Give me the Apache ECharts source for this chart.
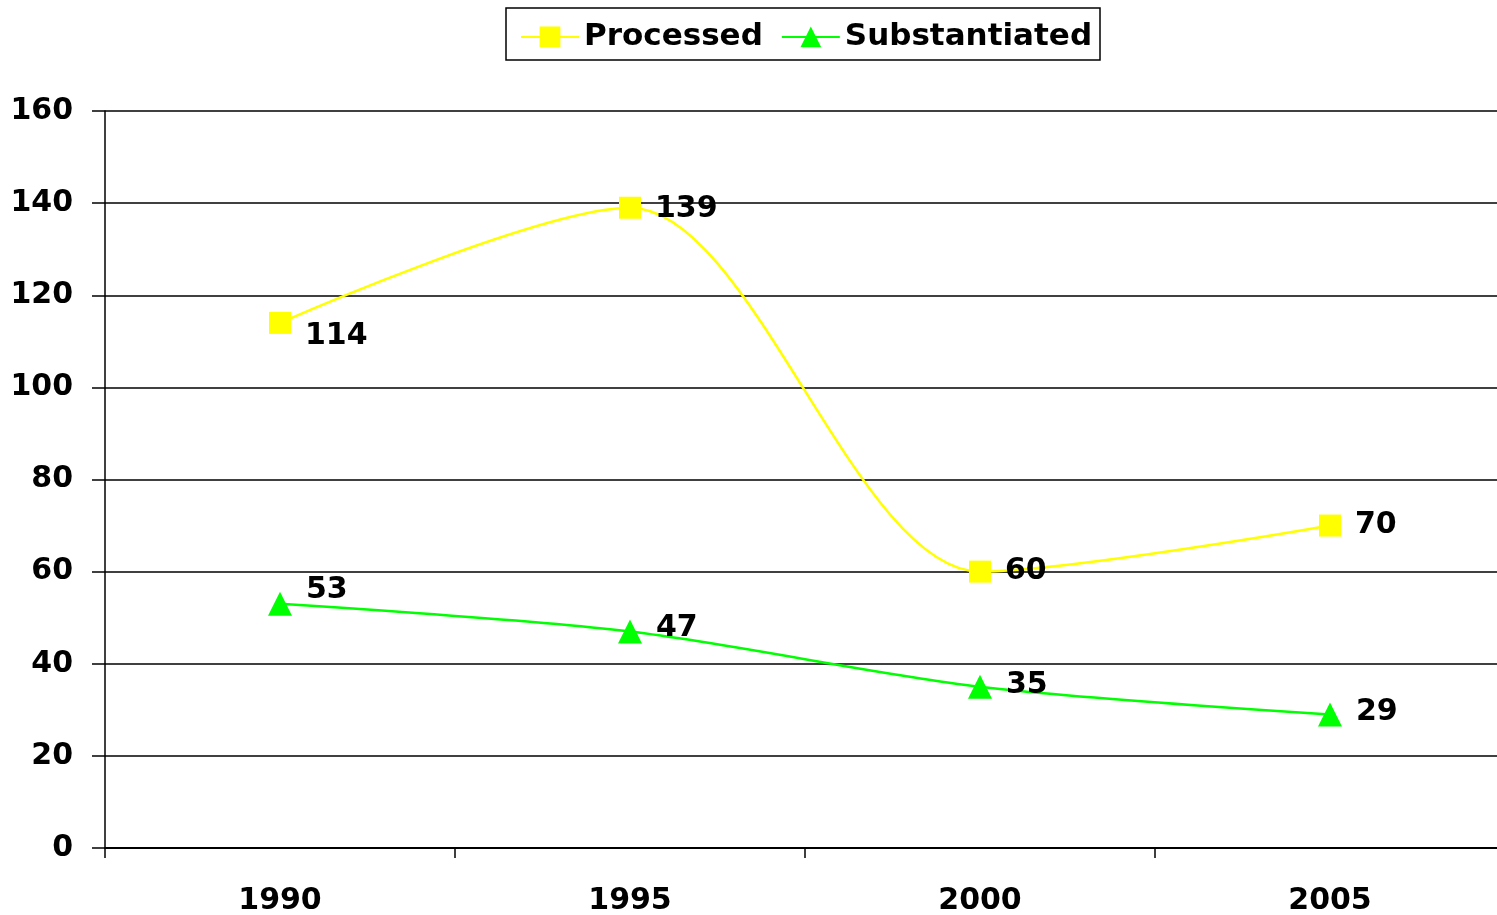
<script src="https://cdn.jsdelivr.net/npm/echarts@6.0.0/dist/echarts.min.js"></script>

<div id="chart" style="width: 1497px; height: 915px;"></div>

<script>
  const years = ['1990', '1995', '2000', '2005'];
  const processed = [114, 139, 60, 70];
  const substantiated = [53, 47, 35, 29];

  const ready = (fn) => {
    if (document.readyState !== "loading") {
      fn();
    } else {
      document.addEventListener("DOMContentLoaded", fn);
    }
  };

  ready(() => {
    document.body.style.margin = '0';
    const chartDom = document.getElementById("chart");
    const myChart = echarts.init(chartDom, null, { renderer: "canvas" });
    const font = 'DejaVu Sans';

    // label nudges, matched by point index
    const procOffsets = [[0, 13], [0, 1], [0, 0], [0, 0]];
    const subOffsets = [[0, -14], [0, -3], [0, -2], [0, -2]];

    const withLabels = (values, offsets) => values.map((v, i) => ({
      value: v,
      label: { offset: offsets[i] }
    }));

    const labelStyle = {
      show: true,
      position: 'right',
      distance: 14,
      color: '#000',
      fontFamily: font,
      fontWeight: 'bold',
      fontSize: 30
    };

    const option = {
      animation: false,
      // legend frame drawn separately so its height matches
      graphic: [{
        type: 'rect',
        shape: { x: 506, y: 8, width: 594, height: 52 },
        style: { fill: 'none', stroke: '#000', lineWidth: 1.5 },
        z: 10
      }],
      legend: {
        top: 4,
        left: 508,
        padding: [0, 12, 0, 12],
        borderWidth: 0,
        itemWidth: 58,
        itemHeight: 26,
        itemGap: 18,
        textStyle: { fontFamily: font, fontWeight: 'bold', fontSize: 31, color: '#000' },
        data: ['Processed', 'Substantiated']
      },
      grid: { left: 105, top: 111, width: 1400, height: 737, outerBoundsMode: 'none' },
      xAxis: {
        type: 'category',
        data: years,
        boundaryGap: true,
        axisLine: { lineStyle: { color: '#000', width: 2 } },
        axisTick: { show: true, length: 10, lineStyle: { color: '#000', width: 1.5 } },
        axisLabel: { color: '#000', fontFamily: font, fontWeight: 'bold', fontSize: 30, margin: 21 }
      },
      yAxis: {
        type: 'value',
        min: 0,
        max: 160,
        interval: 20,
        axisLine: { show: true, lineStyle: { color: '#000', width: 1.5 } },
        axisTick: { show: true, length: 13, lineStyle: { color: '#000', width: 1.5 } },
        splitLine: { lineStyle: { color: '#000', width: 1.5 } },
        axisLabel: { color: '#000', fontFamily: font, fontWeight: 'bold', fontSize: 30, margin: 32 }
      },
      series: [
        {
          name: 'Processed',
          type: 'line',
          smooth: 0.3,
          data: withLabels(processed, procOffsets),
          symbol: 'rect',
          symbolSize: 22,
          lineStyle: { color: '#ffff00', width: 2.5 },
          itemStyle: { color: '#ffff00' },
          label: labelStyle
        },
        {
          name: 'Substantiated',
          type: 'line',
          smooth: 0.3,
          data: withLabels(substantiated, subOffsets),
          symbol: 'triangle',
          symbolSize: 24,
          lineStyle: { color: '#00ff00', width: 2.5 },
          itemStyle: { color: '#00ff00' },
          label: labelStyle
        }
      ]
    };
    myChart.setOption(option);
  });
</script>
